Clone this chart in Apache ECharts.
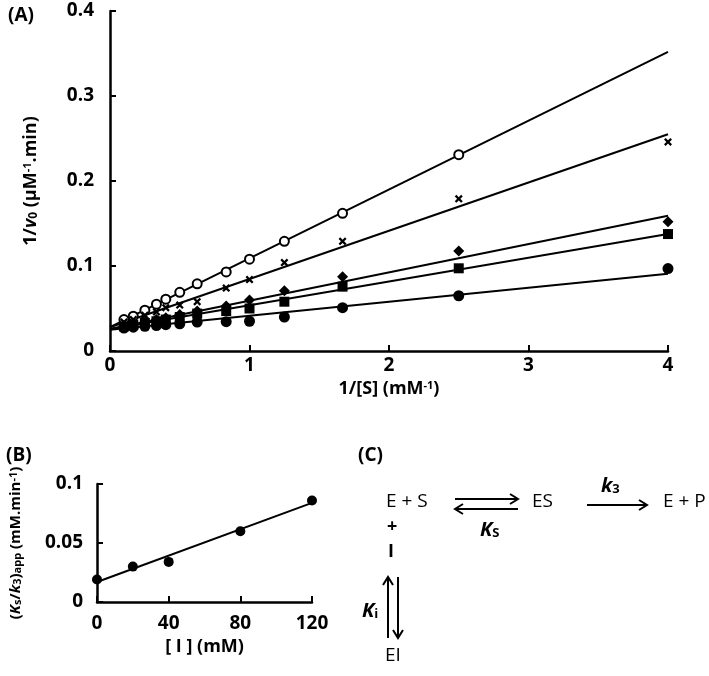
<!DOCTYPE html>
<html>
<head>
<meta charset="utf-8">
<script src="https://cdn.jsdelivr.net/npm/echarts@6/dist/echarts.min.js"></script>
<style>
  html, body { margin: 0; padding: 0; background: #fff; }
  #chart { width: 709px; height: 676px; }
</style>
</head>
<body>
<div id="chart"></div>
<script>
// panel A: Lineweaver-Burk, 1/[S] vs 1/v0
const invS = [0.1, 0.167, 0.25, 0.333, 0.4, 0.5, 0.625, 0.833, 1, 1.25, 1.667, 2.5, 4];
const openCircle = [0.037, 0.041, 0.048, 0.055, 0.061, 0.069, 0.079, 0.093, 0.108, 0.129, 0.162, 0.231, null];
const crosses = [0.034, 0.037, 0.042, 0.046, 0.051, 0.054, 0.058, 0.074, 0.084, 0.104, 0.129, 0.179, 0.246];
const diamonds = [0.030, 0.032, 0.034, 0.037, 0.039, 0.043, 0.047, 0.053, 0.060, 0.071, 0.0875, 0.1176, 0.152];
const squares = [0.029, 0.031, 0.033, 0.035, 0.037, 0.040, 0.044, 0.047, 0.050, 0.058, 0.0757, 0.0973, 0.1376];
const filledCircle = [0.027, 0.028, 0.029, 0.030, 0.031, 0.032, 0.034, 0.0345, 0.035, 0.040, 0.051, 0.065, 0.097];

// fitted lines (value at x=0 and x=4)
const fitX = [0, 4];
const fitOpen = [0.028, 0.352];
const fitCross = [0.028, 0.255];
const fitDiamond = [0.026, 0.159];
const fitSquare = [0.026, 0.1376];
const fitFilled = [0.025, 0.091];

// panel B: replot
const inhibitor = [0, 20, 40, 80, 120];
const ksk3 = [0.019, 0.030, 0.034, 0.060, 0.086];
const fitBX = [0, 120];
const fitB = [0.017, 0.084];

const font = '"Open Sans", "Liberation Sans", sans-serif';
const crossPath = 'path://M0,2 L2,0 L5,3 L8,0 L10,2 L7,5 L10,8 L8,10 L5,7 L2,10 L0,8 L3,5 Z';

function pairs(xs, ys) {
  return xs.map((x, i) => [x, ys[i]]).filter(p => p[1] != null);
}

function axisStyle(margin) {
  return {
    axisLine: { show: true, onZero: false, lineStyle: { color: '#000', width: 2.5 } },
    axisTick: { show: true, inside: true, length: 6, lineStyle: { color: '#000', width: 2 } },
    splitLine: { show: false },
    axisLabel: { color: '#000', fontFamily: font, fontWeight: 'bold', fontSize: 19, margin: margin },
  };
}

function pointSeries(name, data, symbol, size, xi) {
  return {
    name: name,
    type: 'scatter',
    xAxisIndex: xi, yAxisIndex: xi,
    symbol: symbol,
    symbolSize: size,
    data: data,
    itemStyle: symbol === 'emptyCircle'
      ? { color: '#000', borderColor: '#000', borderWidth: 2, opacity: 1 }
      : { color: '#000', opacity: 1 },
    z: 3
  };
}

function fitSeries(xs, ys, xi) {
  return {
    type: 'line',
    xAxisIndex: xi, yAxisIndex: xi,
    showSymbol: false,
    data: pairs(xs, ys),
    lineStyle: { color: '#000', width: 2 },
    z: 2
  };
}

const rich = {
  b: { fontFamily: font, fontWeight: 'bold', fontSize: 18, color: '#000' },
  i: { fontFamily: font, fontWeight: 'bold', fontStyle: 'italic', fontSize: 18, color: '#000' },
  sub: { fontFamily: font, fontWeight: 'bold', fontSize: 12, color: '#000', verticalAlign: 'bottom' },
  sup: { fontFamily: font, fontWeight: 'bold', fontSize: 11, color: '#000', verticalAlign: 'top' },
  bs: { fontFamily: font, fontWeight: 'bold', fontSize: 15, color: '#000' },
  is: { fontFamily: font, fontWeight: 'bold', fontStyle: 'italic', fontSize: 15, color: '#000' },
  sbs: { fontFamily: font, fontWeight: 'bold', fontSize: 11, color: '#000', verticalAlign: 'bottom' },
};

const chart = echarts.init(document.getElementById('chart'));

const txt = (x, y, text, extra) => ({
  type: 'text', left: x, top: y,
  style: Object.assign({ text: text, fill: '#000', font: '19px ' + font }, extra || {})
});
const kText = (x, y, main, sub) => ({
  type: 'text', left: x, top: y,
  style: {
    text: '{k|' + main + '}{s|' + sub + '}',
    rich: {
      k: { font: 'italic bold 20px ' + font, fill: '#000' },
      s: { font: 'bold 13px ' + font, fill: '#000', verticalAlign: 'bottom' }
    }
  }
});
const line = (pts) => ({ type: 'polyline', shape: { points: pts }, style: { stroke: '#000', lineWidth: 2, fill: null } });

chart.setOption({
  animation: false,
  backgroundColor: '#fff',
  grid: [
    { left: 110, right: 41, top: 11, bottom: 325 },
    { left: 97, width: 215, top: 484, bottom: 74 }
  ],
  xAxis: [
    Object.assign(axisStyle(5), {
      type: 'value', gridIndex: 0, min: 0, max: 4, interval: 1,
      name: '{b|1/[S] (mM}{sup|-1}{b|)}',
      nameLocation: 'middle', nameGap: 23,
      nameTextStyle: { rich: rich }
    }),
    Object.assign(axisStyle(12), {
      type: 'value', gridIndex: 1, min: 0, max: 120, interval: 40,
      name: '{b|[ I ] (mM)}',
      nameLocation: 'middle', nameGap: 36,
      nameTextStyle: { rich: rich }
    })
  ],
  yAxis: [
    Object.assign(axisStyle(16), {
      type: 'value', gridIndex: 0, min: 0, max: 0.4, interval: 0.1,
      name: '{b|1/}{i|v}{sub|0}{b| (μM}{sup|-1}{b|.min)}',
      nameLocation: 'middle', nameGap: 70,
      nameTextStyle: { rich: rich }
    }),
    Object.assign(axisStyle(14), {
      type: 'value', gridIndex: 1, min: 0, max: 0.1, interval: 0.05,
      name: '{bs|(}{is|K}{sbs|s}{bs|/}{is|k}{sbs|3}{bs|)}{sbs|app}{bs| (mM.min}{sup|-1}{bs|)}',
      nameLocation: 'middle', nameGap: 74,
      nameTextStyle: { rich: rich }
    })
  ],
  series: [
    fitSeries(fitX, fitOpen, 0),
    fitSeries(fitX, fitCross, 0),
    fitSeries(fitX, fitDiamond, 0),
    fitSeries(fitX, fitSquare, 0),
    fitSeries(fitX, fitFilled, 0),
    pointSeries('open', pairs(invS, openCircle), 'emptyCircle', 9, 0),
    pointSeries('cross', pairs(invS, crosses), crossPath, 8, 0),
    pointSeries('diamond', pairs(invS, diamonds), 'diamond', 11, 0),
    pointSeries('square', pairs(invS, squares), 'rect', 10, 0),
    pointSeries('filled', pairs(invS, filledCircle), 'circle', 11, 0),
    fitSeries(fitBX, fitB, 1),
    pointSeries('B', pairs(inhibitor, ksk3), 'circle', 10, 1)
  ],
  graphic: [
    txt(8, 6, '(A)', { font: 'bold 19px ' + font }),
    txt(6, 446, '(B)', { font: 'bold 19px ' + font }),
    txt(358, 446, '(C)', { font: 'bold 19px ' + font }),
    // scheme (C)
    txt(386, 492, 'E + S'),
    txt(532, 492, 'ES'),
    txt(663, 492, 'E + P'),
    txt(387, 518, '+', { font: 'bold 18px ' + font }),
    txt(388, 543, 'I', { font: 'bold 18px ' + font }),
    txt(385, 646, 'EI'),
    kText(480, 520, 'K', 'S'),
    kText(601, 476, 'k', '3'),
    kText(362, 601, 'K', 'i'),
    // E+S <-> ES
    line([[455, 499], [518, 499]]),
    line([[510, 494], [518, 499], [510, 504]]),
    line([[455, 509], [518, 509]]),
    line([[463, 504], [455, 509], [463, 514]]),
    // ES -> E+P
    line([[587, 505], [647, 505]]),
    line([[639, 500], [647, 505], [639, 510]]),
    // I <-> EI
    line([[388, 638], [388, 577]]),
    line([[383, 585], [388, 577], [393, 585]]),
    line([[398, 577], [398, 638]]),
    line([[393, 630], [398, 638], [403, 630]])
  ]
});
</script>
</body>
</html>
